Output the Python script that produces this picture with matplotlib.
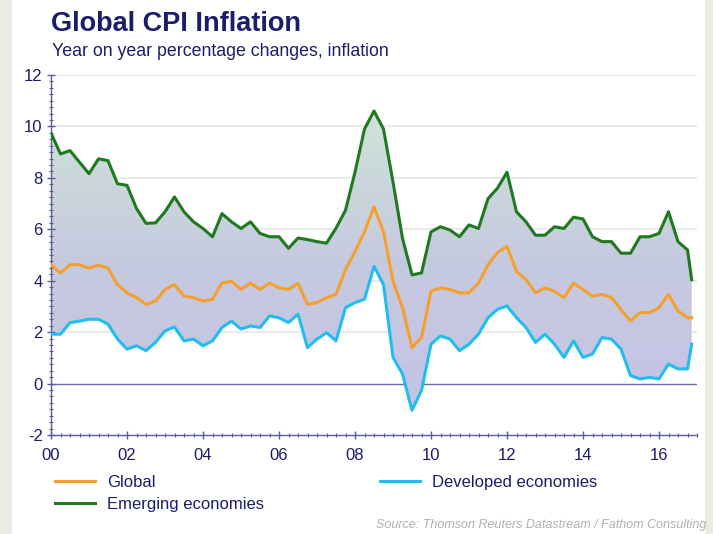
import numpy as np
import matplotlib.pyplot as plt
from matplotlib.colors import LinearSegmentedColormap

plt.rcParams['font.family'] = ['Liberation Sans', 'DejaVu Sans']
plt.rcParams['axes.unicode_minus'] = False

# Quarterly readings, Q1 2000 .. Q4 2016, plus the last observation (Nov 2016)
dates = [2000 + 0.25 * i for i in range(68)] + [2016.86]

emerging = [9.74, 8.93, 9.06, 8.61,
            8.16, 8.74, 8.67, 7.77,
            7.71, 6.81, 6.23, 6.25,
            6.68, 7.26, 6.68, 6.29,
            6.03, 5.71, 6.61, 6.29,
            6.03, 6.29, 5.84, 5.71,
            5.71, 5.26, 5.66, 5.60,
            5.52, 5.46, 6.04, 6.74,
            8.22, 9.90, 10.60, 9.90,
            7.84, 5.65, 4.23, 4.30,
            5.90, 6.10, 5.97, 5.71,
            6.17, 6.03, 7.19, 7.60,
            8.22, 6.68, 6.29, 5.77,
            5.77, 6.10, 6.03, 6.47,
            6.40, 5.71, 5.52, 5.52,
            5.07, 5.07, 5.71, 5.71,
            5.84, 6.68, 5.52, 5.20,
            4.04]

global_cpi = [4.62, 4.30, 4.62, 4.62,
              4.49, 4.60, 4.49, 3.85,
              3.53, 3.34, 3.08, 3.21,
              3.66, 3.85, 3.40, 3.34,
              3.21, 3.28, 3.91, 3.98,
              3.66, 3.91, 3.66, 3.91,
              3.72, 3.66, 3.90, 3.08,
              3.15, 3.34, 3.47, 4.43,
              5.14, 5.90, 6.87, 5.90,
              3.98, 2.95, 1.40, 1.79,
              3.59, 3.72, 3.66, 3.53,
              3.53, 3.91, 4.62, 5.10,
              5.33, 4.36, 4.04, 3.53,
              3.72, 3.59, 3.34, 3.91,
              3.66, 3.40, 3.47, 3.34,
              2.88, 2.43, 2.76, 2.76,
              2.95, 3.47, 2.82, 2.56,
              2.56]

developed = [1.92, 1.92, 2.37, 2.43,
             2.50, 2.50, 2.31, 1.73,
             1.34, 1.47, 1.28, 1.60,
             2.05, 2.20, 1.66, 1.73,
             1.47, 1.66, 2.18, 2.43,
             2.12, 2.24, 2.18, 2.63,
             2.56, 2.37, 2.70, 1.40,
             1.73, 1.98, 1.66, 2.95,
             3.15, 3.28, 4.56, 3.85,
             1.02, 0.37, -1.04, -0.27,
             1.53, 1.85, 1.73, 1.28,
             1.53, 1.92, 2.56, 2.89,
             3.02, 2.56, 2.18, 1.60,
             1.92, 1.53, 1.02, 1.66,
             1.02, 1.15, 1.79, 1.73,
             1.34, 0.31, 0.18, 0.24,
             0.18, 0.76, 0.57, 0.57,
             1.53]

year_ticks = list(range(2000, 2017, 2))
year_labels = ['00', '02', '04', '06', '08', '10', '12', '14', '16']

navy = '#1c1c6b'
c_global = '#f5a02e'
c_dev = '#22bdee'
c_emg = '#1f7a1f'

fig = plt.figure(figsize=(7.13, 5.34), dpi=100, facecolor='#ecebe2')
# white card
fig.patches.append(plt.Rectangle((12 / 713, 0), 693 / 713, 1, transform=fig.transFigure,
                                 facecolor='white', edgecolor='none', zorder=-10))

ax = fig.add_axes([51 / 713, 1 - 435 / 534, 646 / 713, 360 / 534])
ax.set_facecolor('none')
ax.set_xlim(2000, 2017)
ax.set_ylim(-2, 12)

# grid
for g in [2, 4, 6, 8, 10, 12]:
    ax.axhline(g, color='#ebebeb', lw=1.6, zorder=0)
ax.axhline(0, color='#6a6aa8', lw=1.0, zorder=1)

# gradient fill between developed and emerging
poly = ax.fill_between(dates, developed, emerging, facecolor='none', edgecolor='none')
cmap = LinearSegmentedColormap.from_list('band', ['#c4c4e6', '#c6cadf', '#d0e3d8'])
grad = np.linspace(0, 1, 256).reshape(-1, 1)
im = ax.imshow(grad, extent=[2000, 2017, -1.2, 10.8], origin='lower', aspect='auto',
               cmap=cmap, zorder=1)
im.set_clip_path(poly.get_paths()[0], transform=ax.transData)

ax.plot(dates, global_cpi, color=c_global, lw=2.2, label='Global', zorder=3)
ax.plot(dates, developed, color=c_dev, lw=2.2, label='Developed economies', zorder=3)
ax.plot(dates, emerging, color=c_emg, lw=2.2, label='Emerging economies', zorder=3)

for s in ['top', 'right']:
    ax.spines[s].set_visible(False)
for s in ['left', 'bottom']:
    ax.spines[s].set_color('#5a5a9e')
    ax.spines[s].set_linewidth(1)

ax.set_xticks(year_ticks)
ax.set_xticklabels(year_labels)
ax.set_xticks(np.arange(2000, 2017.01, 0.25), minor=True)
ax.set_yticks(range(-2, 13, 2))
ax.set_yticks(np.arange(-2, 12.01, 0.25), minor=True)
ax.tick_params(axis='both', which='major', colors='#5a5a9e', labelcolor=navy,
               labelsize=12, direction='inout', length=6, width=1)
ax.tick_params(axis='both', which='minor', colors='#5a5a9e', direction='inout',
               length=3, width=0.8)
ax.tick_params(axis='x', which='major', pad=6)
ax.tick_params(axis='y', which='major', pad=3)

fig.text(51 / 713, 1 - 24 / 534, 'Global CPI Inflation', fontsize=19.5, fontweight='bold',
         color=navy, va='center', ha='left')
fig.text(52 / 713, 1 - 51 / 534, 'Year on year percentage changes, inflation',
         fontsize=12.8, color=navy, va='center', ha='left')

h = ax.get_legend_handles_labels()[0]
leg = fig.legend([h[0], h[2], h[1]], ['Global', 'Emerging economies', 'Developed economies'],
                 ncol=2, loc='upper left', bbox_to_anchor=(55 / 713, 1 - 475 / 534),
                 frameon=False, fontsize=12, handlelength=2.4, handletextpad=0.7,
                 columnspacing=7.0, labelspacing=0.4, borderpad=0, borderaxespad=0)
for t in leg.get_texts():
    t.set_color(navy)
for l in leg.get_lines():
    l.set_linewidth(2.2)

fig.text(706 / 713, 1 - 525 / 534, 'Source: Thomson Reuters Datastream / Fathom Consulting',
         fontsize=9, style='italic', color='#b0b0b0', ha='right', va='center')

fig.savefig('out.png', dpi=100, facecolor=fig.get_facecolor())
